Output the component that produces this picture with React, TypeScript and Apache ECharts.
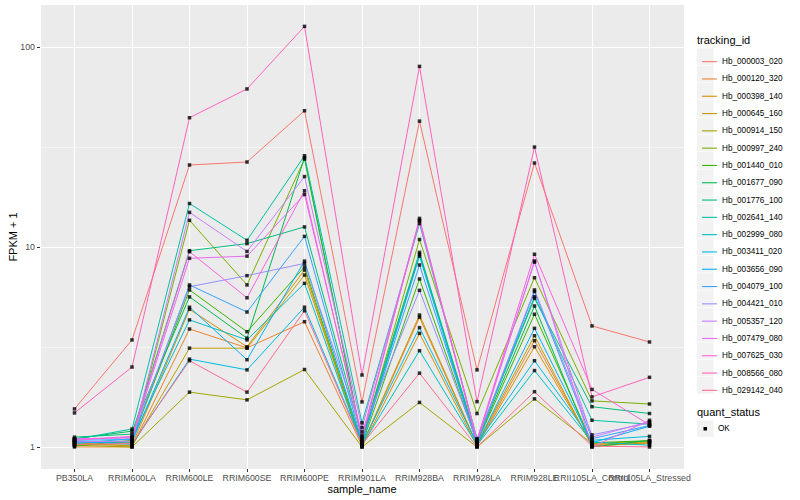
import React, { useEffect, useRef } from "react";
import * as echarts from "echarts";

const categories = [
  "PB350LA", "RRIM600LA", "RRIM600LE", "RRIM600SE", "RRIM600PE", "RRIM901LA",
  "RRIM928BA", "RRIM928LA", "RRIM928LE", "RRII105LA_Control", "RRII105LA_Stressed",
];

const trackingIds = [
  "Hb_000003_020", "Hb_000120_320", "Hb_000398_140", "Hb_000645_160", "Hb_000914_150",
  "Hb_000997_240", "Hb_001440_010", "Hb_001677_090", "Hb_001776_100", "Hb_002641_140",
  "Hb_002999_080", "Hb_003411_020", "Hb_003656_090", "Hb_004079_100", "Hb_004421_010",
  "Hb_005357_120", "Hb_007479_080", "Hb_007625_030", "Hb_008566_080", "Hb_029142_040",
];

const colors = [
  "#F8766D", "#EA8331", "#D89000", "#C09B00", "#A3A500", "#7CAE00", "#39B600",
  "#00BB4E", "#00BF7D", "#00C1A3", "#00BFC4", "#00BAE0", "#00B0F6", "#35A2FF",
  "#9590FF", "#C77CFF", "#E76BF3", "#FA62DB", "#FF62BC", "#FF6C91",
];

// FPKM + 1 per sample, in category order
const hb000003_020 = [1.55, 3.43, 25.7, 26.6, 48.0, 1.68, 42.6, 2.43, 26.3, 4.03, 3.35];
const hb000120_320 = [1.0, 1.0, 3.89, 3.13, 4.23, 1.01, 4.45, 1.02, 3.4, 1.02, 1.04];
const hb000398_140 = [1.03, 1.02, 4.88, 3.17, 7.67, 1.0, 3.7, 1.01, 3.17, 1.03, 1.06];
const hb000645_160 = [1.05, 1.01, 3.12, 3.12, 7.24, 1.02, 4.57, 1.03, 3.6, 1.01, 1.05];
const hb000914_150 = [1.02, 1.0, 1.88, 1.72, 2.44, 1.0, 1.67, 1.0, 1.74, 1.04, 1.07];
const hb000997_240 = [1.06, 1.05, 13.6, 6.46, 27.5, 1.07, 10.9, 1.47, 7.02, 1.7, 1.64];
const hb001440_010 = [1.01, 1.08, 6.1, 3.77, 7.95, 1.03, 6.92, 1.05, 4.61, 1.05, 1.075];
const hb001677_090 = [1.1, 1.2, 5.63, 3.5, 28.0, 1.08, 9.2, 1.06, 5.07, 1.0, 1.08];
const hb001776_100 = [1.12, 1.16, 9.58, 10.4, 12.6, 1.12, 9.4, 1.08, 5.53, 1.59, 1.47];
const hb002641_140 = [1.09, 1.23, 16.5, 10.8, 28.6, 1.32, 13.1, 1.1, 5.64, 1.36, 1.3];
const hb002999_080 = [1.04, 1.1, 4.32, 3.43, 6.58, 1.02, 3.03, 1.02, 2.41, 1.06, 1.02];
const hb003411_020 = [1.07, 1.03, 2.75, 2.43, 5.0, 1.04, 3.95, 1.04, 2.7, 1.08, 1.13];
const hb003656_090 = [1.05, 1.06, 5.0, 2.73, 8.5, 1.05, 9.0, 1.03, 3.92, 1.05, 1.27];
const hb004079_100 = [1.08, 1.09, 6.46, 4.73, 11.3, 1.06, 8.13, 1.05, 5.98, 1.1, 1.28];
const hb004421_010 = [1.09, 1.12, 6.33, 7.19, 8.28, 1.19, 6.07, 1.07, 6.1, 1.15, 1.32];
const hb005357_120 = [1.06, 1.07, 14.9, 9.5, 22.5, 1.25, 13.5, 1.09, 8.4, 1.12, 1.34];
const hb007479_080 = [1.1, 1.11, 8.78, 9.0, 18.3, 1.14, 13.6, 1.06, 8.51, 1.0, 1.36];
const hb007625_030 = [1.08, 1.13, 9.47, 5.57, 19.1, 1.1, 13.9, 1.08, 9.2, 1.94, 1.29];
const hb008566_080 = [1.48, 2.51, 44.3, 61.7, 126.8, 2.29, 80.0, 1.685, 31.6, 1.78, 2.23];
const hb029142_040 = [1.03, 1.04, 2.7, 1.88, 4.8, 1.03, 2.34, 1.0, 1.89, 1.01, 1.0];

const seriesValues = [
  hb000003_020, hb000120_320, hb000398_140, hb000645_160, hb000914_150,
  hb000997_240, hb001440_010, hb001677_090, hb001776_100, hb002641_140,
  hb002999_080, hb003411_020, hb003656_090, hb004079_100, hb004421_010,
  hb005357_120, hb007479_080, hb007625_030, hb008566_080, hb029142_040,
];

const yTickValues = [1, 10, 100];
const yMinorValues = [Math.sqrt(10), 10 * Math.sqrt(10)];
const statusLabels = ["OK"];

const FONT = "'Liberation Sans', Arial, Helvetica, sans-serif";

export default function App() {
  const ref = useRef<HTMLDivElement>(null);

  useEffect(() => {
    if (!ref.current) return;
    const chart = echarts.init(ref.current, undefined, { renderer: "svg" });

    const xMin = 0.4;
    const xMax = categories.length + 0.6;
    // category positions, padded with the axis ends (which carry empty labels)
    const xTickValues = [xMin, ...categories.map((_, i) => i + 1), xMax];

    const legendTop = 48;
    const legendStep = 17.3;

    const lineSeries = trackingIds.map((id, k) => ({
      type: "line",
      name: id,
      data: seriesValues[k].map((v, i) => [i + 1, v]),
      symbol: "none",
      lineStyle: { width: 1, color: colors[k] },
      itemStyle: { color: colors[k] },
      emphasis: { disabled: true },
      silent: true,
      z: 2,
    }));

    const pointData: number[][] = [];
    seriesValues.forEach((vals) => vals.forEach((v, i) => pointData.push([i + 1, v])));

    const keyBoxes = trackingIds.map((_, k) => ({
      type: "rect",
      left: 697,
      top: legendTop + k * legendStep + 0.3,
      shape: { width: 16.5, height: 16.7 },
      style: { fill: "#F2F2F2" },
      z: 0,
      silent: true,
    }));

    const option = {
      animation: false,
      textStyle: { fontFamily: FONT },
      grid: {
        left: 40, right: 116, top: 5, bottom: 31,
        show: true, backgroundColor: "#EBEBEB", borderWidth: 0,
        containLabel: false, outerBoundsMode: "none",
      },
      xAxis: {
        type: "value",
        min: xMin,
        max: xMax,
        name: "sample_name",
        nameLocation: "middle",
        nameGap: 14,
        nameMoveOverlap: false,
        nameTextStyle: { fontSize: 11, color: "#000000", fontFamily: FONT },
        axisLine: { show: false },
        axisTick: { show: true, length: 3, customValues: xTickValues, lineStyle: { color: "#333333", width: 1 } },
        axisLabel: {
          customValues: xTickValues,
          formatter: (v: number) => (Number.isInteger(v) ? categories[v - 1] ?? "" : ""),
          fontSize: 8.8, color: "#4D4D4D", margin: 4, fontFamily: FONT,
          hideOverlap: false, showMinLabel: false, showMaxLabel: false,
        },
        splitLine: { show: true, lineStyle: { color: "#FFFFFF", width: 1.07 } },
      },
      yAxis: {
        type: "log",
        logBase: 10,
        min: 0.776,
        max: 162.2,
        name: "FPKM + 1",
        nameLocation: "middle",
        nameGap: 22,
        nameRotate: 90,
        nameMoveOverlap: false,
        nameTextStyle: { fontSize: 11, color: "#000000", fontFamily: FONT },
        axisLine: { show: false },
        axisTick: { show: true, length: 3, customValues: yTickValues, lineStyle: { color: "#333333", width: 1 } },
        axisLabel: {
          customValues: yTickValues,
          formatter: (v: number) => String(Math.round(v)),
          fontSize: 8.8, color: "#4D4D4D", margin: 5, fontFamily: FONT,
        },
        splitLine: { show: true, lineStyle: { color: "#FFFFFF", width: 1.07 } },
      },
      legend: {
        orient: "vertical",
        left: 697,
        top: legendTop,
        icon: "rect",
        itemWidth: 15,
        itemHeight: 1.1,
        itemGap: 0,
        data: trackingIds,
        selectedMode: false,
        textStyle: { fontSize: 8.2, color: "#000000", fontFamily: FONT, lineHeight: legendStep },
        z: 4,
      },
      graphic: [
        ...keyBoxes,
        {
          type: "text", left: 697, top: 34, silent: true,
          style: { text: "tracking_id", fontSize: 11, fill: "#000000", fontFamily: FONT },
        },
        {
          type: "text", left: 697, top: 406, silent: true,
          style: { text: "quant_status", fontSize: 11, fill: "#000000", fontFamily: FONT },
        },
        {
          type: "rect", left: 697, top: 420.5, silent: true,
          shape: { width: 16.5, height: 16.5 }, style: { fill: "#F2F2F2" },
        },
        {
          type: "rect", left: 703.5, top: 427, silent: true,
          shape: { width: 3.5, height: 3.5 }, style: { fill: "#000000" },
        },
        {
          type: "text", left: 718, top: 424.5, silent: true,
          style: { text: statusLabels[0], fontSize: 8.2, fill: "#000000", fontFamily: FONT },
        },
      ],
      series: [
        {
          type: "line",
          name: "minor-grid",
          data: [],
          silent: true,
          markLine: {
            silent: true,
            symbol: "none",
            z: 1,
            label: { show: false },
            lineStyle: { color: "#FFFFFF", width: 0.53, type: "solid" },
            emphasis: { disabled: true },
            data: yMinorValues.map((v) => ({ yAxis: v })),
          },
          z: 1,
        },
        ...lineSeries,
        {
          type: "scatter",
          name: statusLabels[0],
          data: pointData,
          symbol: "rect",
          symbolSize: 3.5,
          itemStyle: { color: "#000000" },
          silent: true,
          z: 5,
        },
      ],
    };

    chart.setOption(option as any);
    return () => chart.dispose();
  }, []);

  return (
    <div
      ref={ref}
      style={{ position: "fixed", left: 0, top: 0, width: 800, height: 500, background: "#FFFFFF" }}
    />
  );
}
